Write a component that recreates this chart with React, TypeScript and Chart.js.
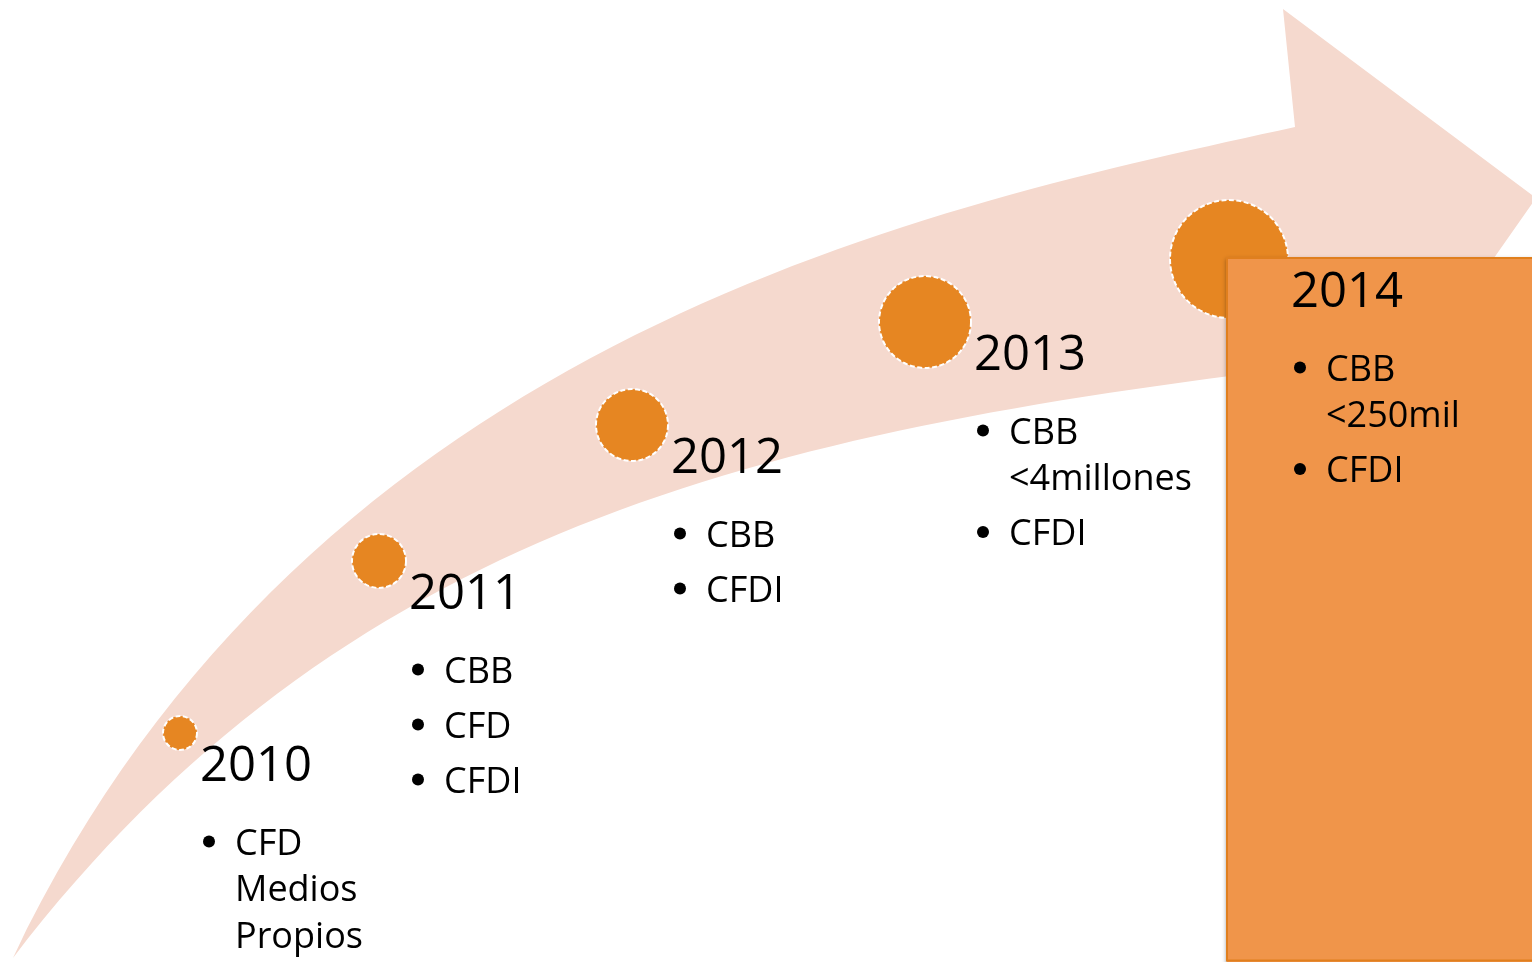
import React, { useEffect, useRef } from "react";
import { Chart, registerables } from "chart.js";

Chart.register(...registerables);

// ---- data ----
const years = ["2010", "2011", "2012", "2013", "2014"];
const circleX = [180, 379, 632, 925, 1229];
const circleY = [733, 561, 425, 322, 259];
const circleR = [17, 27, 36, 46, 59];
const bullets: string[][][] = [
  [["CFD", "Medios", "Propios"]],
  [["CBB"], ["CFD"], ["CFDI"]],
  [["CBB"], ["CFDI"]],
  [["CBB", "<4millones"], ["CFDI"]],
  [["CBB", "<250mil"], ["CFDI"]],
];
const highlightIndex = 4;

// arrow outline (data units): cubic curves for the shaft edges, polygon for the head
const arrowTopCurve: number[][] = [[13, 958], [313, 328], [945, 204], [1295, 127]];
const arrowHead: number[][] = [[1283, 9], [1536, 198], [1440, 335], [1310, 366]];
const arrowBottomCurve: number[][] = [[1310, 366], [760, 432], [343, 529], [13, 958]];

const W = 1532;
const H = 962;

const timelinePlugin = {
  id: "timeline",
  beforeDatasetsDraw(chart: any) {
    const ctx: CanvasRenderingContext2D = chart.ctx;
    const xs = chart.scales.x;
    const ys = chart.scales.y;
    const P = (p: number[]) => [xs.getPixelForValue(p[0]), ys.getPixelForValue(p[1])];
    const t = arrowTopCurve.map(P);
    const b = arrowBottomCurve.map(P);
    ctx.save();
    ctx.fillStyle = "#F5D9CE";
    ctx.beginPath();
    ctx.moveTo(t[0][0], t[0][1]);
    ctx.bezierCurveTo(t[1][0], t[1][1], t[2][0], t[2][1], t[3][0], t[3][1]);
    arrowHead.map(P).forEach((p) => ctx.lineTo(p[0], p[1]));
    ctx.lineTo(b[0][0], b[0][1]);
    ctx.bezierCurveTo(b[1][0], b[1][1], b[2][0], b[2][1], b[3][0], b[3][1]);
    ctx.closePath();
    ctx.fill();
    ctx.restore();
  },
  afterDatasetsDraw(chart: any) {
    const ctx: CanvasRenderingContext2D = chart.ctx;
    const meta = chart.getDatasetMeta(0);
    ctx.save();
    // dashed white outlines
    meta.data.forEach((el: any, i: number) => {
      ctx.beginPath();
      ctx.arc(el.x, el.y, circleR[i], 0, Math.PI * 2);
      ctx.strokeStyle = "#FFFFFF";
      ctx.lineWidth = 2;
      ctx.setLineDash([5, 2.5]);
      ctx.stroke();
    });
    ctx.setLineDash([]);

    // highlight box
    const hl = meta.data[highlightIndex];
    const bx = hl.x - 2;
    const by = hl.y - 1;
    ctx.save();
    ctx.shadowColor = "rgba(0,0,0,0.35)";
    ctx.shadowBlur = 4;
    ctx.shadowOffsetX = -1;
    ctx.shadowOffsetY = 1;
    ctx.fillStyle = "#F0954A";
    ctx.fillRect(bx, by, W - bx + 10, H - by + 10);
    ctx.restore();
    ctx.strokeStyle = "#E07F1E";
    ctx.lineWidth = 2;
    ctx.strokeRect(bx, by, W - bx + 10, H - by - 1.5);

    // texts
    ctx.fillStyle = "#000000";
    ctx.textBaseline = "alphabetic";
    ctx.textAlign = "left";
    meta.data.forEach((el: any, i: number) => {
      const tx = el.x + circleR[i] + 3;
      const base = el.y + 48;
      ctx.font = '49px "Open Sans"';
      ctx.fillText(years[i], tx, base);
      ctx.font = '36px "Open Sans"';
      let y = base + 73.5;
      bullets[i].forEach((item, bi) => {
        if (bi > 0) y += 55;
        ctx.beginPath();
        ctx.arc(tx + 9, y - 13, 6, 0, Math.PI * 2);
        ctx.fill();
        item.forEach((line, li) => {
          if (li > 0) y += 46.5;
          ctx.fillText(line, tx + 35, y);
        });
      });
    });
    ctx.restore();
  },
};

export default function App() {
  const ref = useRef<HTMLCanvasElement | null>(null);
  useEffect(() => {
    if (!ref.current) return;
    const chart = new Chart(ref.current, {
      type: "bubble",
      data: {
        datasets: [
          {
            data: years.map((_, i) => ({ x: circleX[i], y: circleY[i], r: circleR[i] })),
            backgroundColor: "#E68622",
            borderWidth: 0,
            hoverRadius: 0,
            clip: false as any,
          },
        ],
      },
      options: {
        animation: false,
        responsive: false,
        maintainAspectRatio: false,
        devicePixelRatio: 1,
        events: [],
        layout: { padding: 0, autoPadding: false } as any,
        plugins: { legend: { display: false }, tooltip: { enabled: false } },
        scales: {
          x: { type: "linear", min: 0, max: W, display: false, offset: false },
          y: { type: "linear", min: 0, max: H, reverse: true, display: false, offset: false },
        },
      },
      plugins: [timelinePlugin],
    });
    return () => chart.destroy();
  }, []);
  return (
    <div style={{ position: "fixed", left: 0, top: 0, width: W, height: H, background: "#fff" }}>
      <canvas ref={ref} width={W} height={H} style={{ width: W, height: H, display: "block" }} />
    </div>
  );
}
